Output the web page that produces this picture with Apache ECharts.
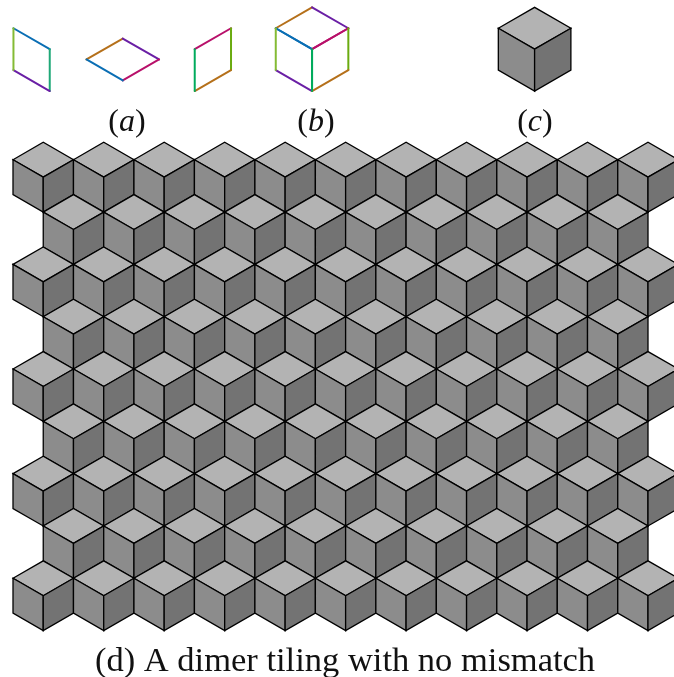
<!DOCTYPE html>
<html>
<head>
<meta charset="utf-8">
<style>html,body{margin:0;padding:0;background:#fff}#c{width:674px;height:677px}</style>
<script src="https://cdn.jsdelivr.net/npm/echarts@6/dist/echarts.min.js"></script>
</head>
<body>
<div id="c"></div>
<script>
// Tiling lattice: one x unit is half a cube width, one y unit is half a rhombus height.
const evenRowColumns = [0, 2, 4, 6, 8, 10, 12, 14, 16, 18, 20];
const oddRowColumns = [1, 3, 5, 7, 9, 11, 13, 15, 17, 19];
const rowStarts = [0, 3, 6, 9, 12, 15, 18, 21, 24];
const faceNames = ['top', 'left', 'right'];
const faceShades = ['#b3b3b3', '#8c8c8c', '#737373'];
const edgeColors = {
  top: ['#b5701a', '#6a1fa5', '#b8106a', '#0a6eb4'],
  left: ['#0a6eb4', '#1fa878', '#6a1fa5', '#84bb35'],
  right: ['#b8106a', '#6aab10', '#b5701a', '#00ab5c']
};
const rhombusFigures = [
  [0.015, -7.74, 'left'],
  [2.43, -5.95, 'top'],
  [4.81, -7.74, 'right']
];
const colouredCube = [8.69, -7.74];
const greyCube = [16.05, -7.74];
const smallScale = 1.2;
const captions = [
  [3.77, -1.14, '(', 'a', ')'],
  [10.02, -1.14, '(', 'b', ')'],
  [17.26, -1.14, '(', 'c', ')']
];
const bottomCaption = ['(d) A dimer tiling with no mismatch', 10.98, 29.78];

// Face outlines relative to a cube's left/top corner, clockwise from the upper-left corner.
const faceShapes = {
  top: [[0, 1], [1, 0], [2, 1], [1, 2]],
  left: [[0, 1], [1, 2], [1, 4], [0, 3]],
  right: [[1, 2], [2, 1], [2, 3], [1, 4]]
};

const cubeData = [];
rowStarts.forEach(function (row, r) {
  (r % 2 ? oddRowColumns : evenRowColumns).forEach(function (col) {
    cubeData.push([col, row]);
  });
});

function facePoints(api, ox, oy, face, k) {
  return faceShapes[face].map(function (p) {
    return api.coord([ox + p[0] * k, oy + p[1] * k]);
  });
}
function greyFaces(ox, oy, k, api) {
  return {
    type: 'group',
    children: faceNames.map(function (face, i) {
      return {
        type: 'polygon',
        shape: { points: facePoints(api, ox, oy, face, k) },
        style: { fill: faceShades[i], stroke: '#000', lineWidth: 1.3, lineJoin: 'miter' }
      };
    })
  };
}
function colouredEdges(ox, oy, k, face, api) {
  const pts = facePoints(api, ox, oy, face, k);
  return {
    type: 'group',
    children: pts.map(function (a, i) {
      const b = pts[(i + 1) % 4];
      return {
        type: 'line',
        shape: { x1: a[0], y1: a[1], x2: b[0], y2: b[1] },
        style: { stroke: edgeColors[face][i], lineWidth: 2, lineCap: 'round' }
      };
    })
  };
}

const chart = echarts.init(document.getElementById('c'), null, { renderer: 'canvas' });
chart.setOption({
  animation: false,
  backgroundColor: '#fff',
  grid: { left: 0, right: 0, top: 0, bottom: 0 },
  xAxis: { type: 'value', min: -0.43, max: 21.86, show: false },
  yAxis: { type: 'value', inverse: true, min: -8.16, max: 30.66, show: false },
  series: [
    {
      name: 'tiling', type: 'custom', coordinateSystem: 'cartesian2d', clip: true, silent: true,
      data: cubeData,
      renderItem: function (p, api) {
        return greyFaces(api.value(0), api.value(1), 1, api);
      }
    },
    {
      name: 'cube c', type: 'custom', coordinateSystem: 'cartesian2d', silent: true,
      data: [greyCube],
      renderItem: function (p, api) {
        return greyFaces(api.value(0), api.value(1), smallScale, api);
      }
    },
    {
      name: 'rhombi a', type: 'custom', coordinateSystem: 'cartesian2d', silent: true,
      data: rhombusFigures,
      encode: { x: 0, y: 1 },
      renderItem: function (p, api) {
        const d = rhombusFigures[p.dataIndex];
        return colouredEdges(d[0], d[1], smallScale, d[2], api);
      }
    },
    {
      name: 'cube b', type: 'custom', coordinateSystem: 'cartesian2d', silent: true,
      data: faceNames.map(function () { return [colouredCube[0], colouredCube[1]]; }),
      renderItem: function (p, api) {
        return colouredEdges(api.value(0), api.value(1), smallScale, faceNames[p.dataIndex], api);
      }
    },
    {
      name: 'captions', type: 'custom', coordinateSystem: 'cartesian2d', silent: true,
      data: captions,
      encode: { x: 0, y: 1 },
      renderItem: function (p, api) {
        const d = captions[p.dataIndex];
        const c = api.coord([d[0], d[1]]);
        return {
          type: 'text',
          style: {
            x: c[0], y: c[1],
            text: '{u|' + d[2] + '}{i|' + d[3] + '}{u|' + d[4] + '}',
            align: 'center', verticalAlign: 'middle',
            rich: {
              u: { fontFamily: 'Liberation Serif', fontSize: 32, fill: '#111' },
              i: { fontFamily: 'Liberation Serif', fontStyle: 'italic', fontSize: 32, fill: '#111' }
            }
          }
        };
      }
    },
    {
      name: 'caption d', type: 'custom', coordinateSystem: 'cartesian2d', silent: true,
      data: [[bottomCaption[1], bottomCaption[2]]],
      renderItem: function (p, api) {
        const c = api.coord([api.value(0), api.value(1)]);
        return {
          type: 'text',
          style: {
            x: c[0], y: c[1],
            text: bottomCaption[0],
            align: 'center', verticalAlign: 'middle',
            fontFamily: 'Liberation Serif', fontSize: 34.5, fill: '#111'
          }
        };
      }
    }
  ]
});
</script>
</body>
</html>
